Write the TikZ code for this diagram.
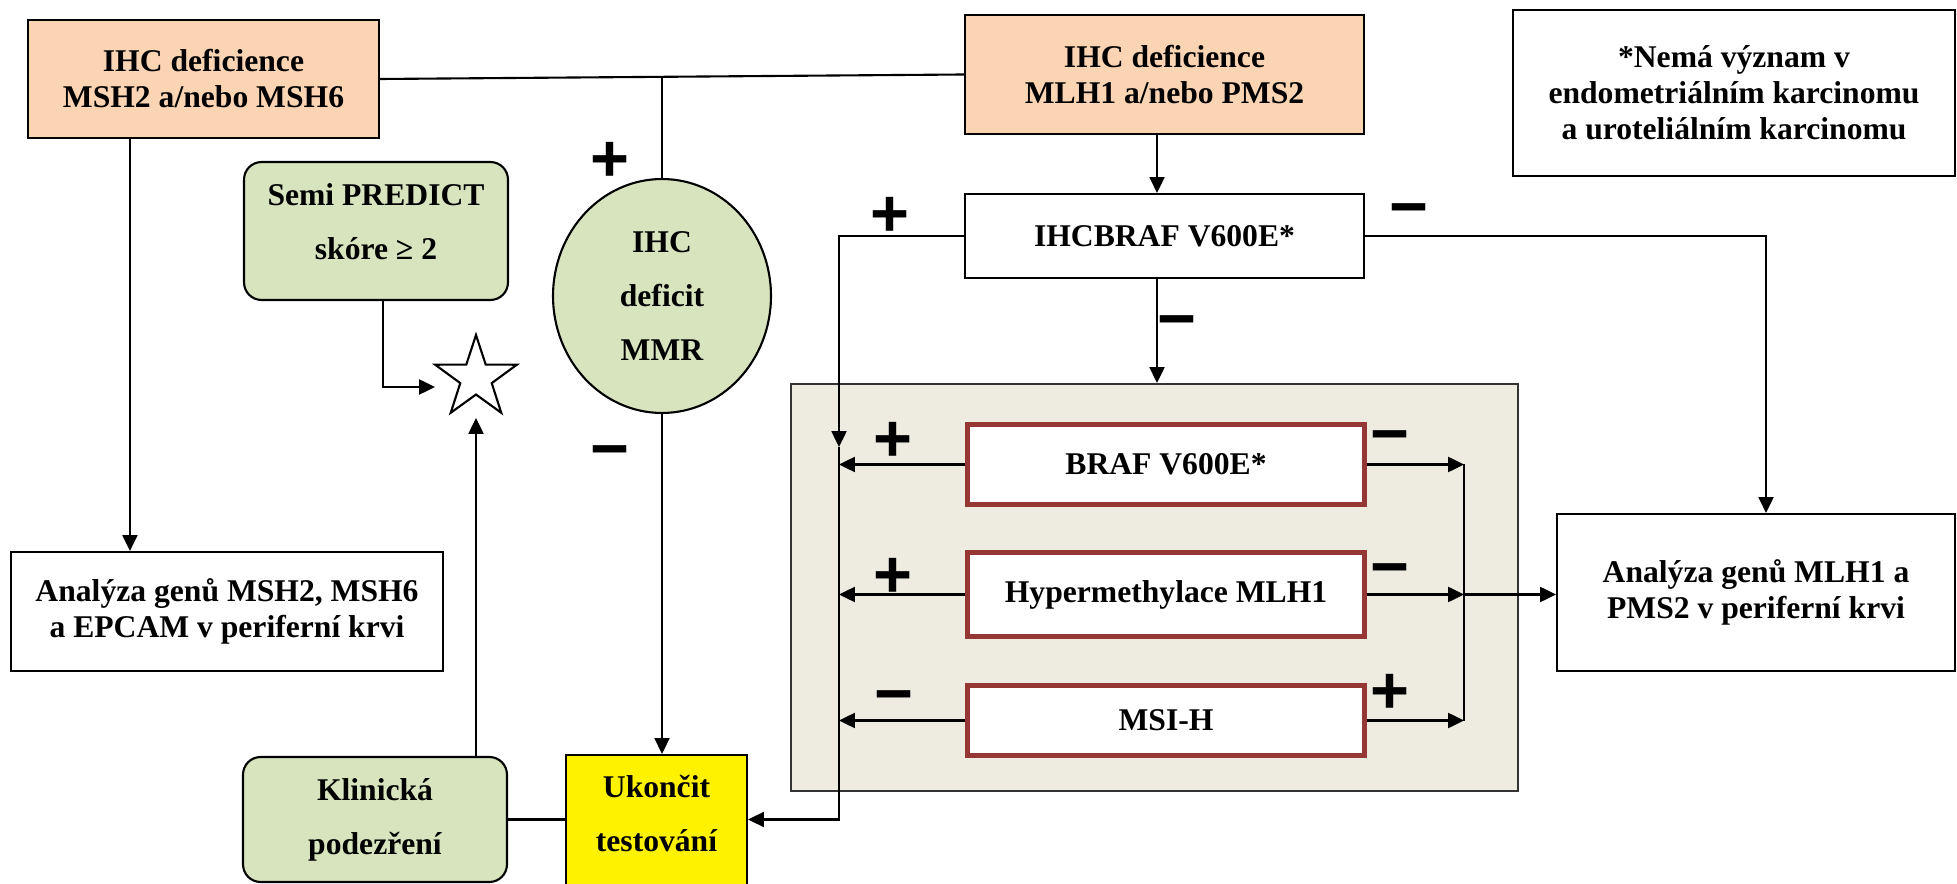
\documentclass[tikz,border=0pt]{standalone}
\usepackage{fontspec}
\setmainfont{Liberation Serif}
\newfontfamily\signfont{Liberation Sans}
\usetikzlibrary{arrows.meta,shapes.geometric,calc}

\definecolor{peach}{HTML}{FBD4B4}
\definecolor{sage}{HTML}{D7E4BD}
\definecolor{panelgray}{HTML}{EEECE1}
\definecolor{brick}{HTML}{953735}

\begin{document}
\begin{tikzpicture}[x=0.02cm,y=-0.02cm,line width=1.2pt,
            arr/.style={-{Triangle[length=9pt,width=8.5pt]}},
            txt/.style={font=\fontsize{18}{20.5}\selectfont\bfseries,align=center,inner sep=0pt},
            wide/.style={font=\fontsize{18}{30.6}\selectfont\bfseries},
            box/.style={txt,draw,rectangle},
            soft/.style={box,wide,fill=sage,rounded corners=10pt},
            testbox/.style={box,draw=brick,line width=2.8pt,fill=white,minimum width=7.94cm},
            sgn/.style={font=\signfont\bfseries\fontsize{38}{38}\selectfont,inner sep=0pt}]
            \useasboundingbox (0,0) rectangle (1957,884);

            \node[box,fill=panelgray,draw=black!80,minimum width=14.54cm,minimum height=8.14cm] (panel) at (1154.5,587.5) {};

            \node[box,fill=peach,minimum width=7.02cm,minimum height=2.36cm] (msh) at (203.5,79) {IHC deficience\\MSH2 a/nebo MSH6};
            \node[box,fill=peach,minimum width=7.98cm,minimum height=2.38cm] (mlh) at (1164.5,74.5) {IHC deficience\\MLH1 a/nebo PMS2};
            \node[box,minimum width=8.84cm,minimum height=3.32cm] (note) at (1734,93) {*Nemá význam v\\endometriálním karcinomu\\a uroteliálním karcinomu};
            \node[box,minimum width=7.98cm,minimum height=1.68cm] (ihcbraf) at (1164.5,236) {IHCBRAF V600E*};
            \node[txt,wide,draw,ellipse,fill=sage,minimum width=4.36cm,minimum height=4.68cm] (mmr) at (662,296) {IHC\\deficit\\MMR};
            \node[soft,text depth=0.38cm,minimum width=5.28cm,minimum height=2.76cm] (predict) at (376,231) {Semi PREDICT\\skóre ≥ 2};
            \node[draw,star,star points=5,star point ratio=2.6,minimum size=1.72cm,inner sep=0pt] (star) at (476,378) {};
            \node[box,minimum width=8.64cm,minimum height=2.38cm] (mshgen) at (227,611.5) {Analýza genů MSH2, MSH6\\a EPCAM v periferní krvi};
            \node[soft,minimum width=5.28cm,minimum height=2.5cm] (klin) at (375,819.5) {Klinická\\podezření};
            \node[box,wide,fill=yellow,text depth=0.36cm,minimum width=3.62cm,minimum height=2.68cm] (stop) at (656.5,822) {Ukončit\\testování};
            \node[box,minimum width=7.96cm,minimum height=3.14cm] (mlhgen) at (1756,592.5) {Analýza genů MLH1 a\\PMS2 v periferní krvi};

            \node[testbox,minimum height=1.60cm] (braf) at (1166,464.5) {BRAF V600E*};
            \node[testbox,minimum height=1.68cm] (hyper) at (1166,594.5) {Hypermethylace MLH1};
            \node[testbox,minimum height=1.40cm] (msi) at (1166,720.5) {MSI-H};

            \coordinate (jn) at (662,77);
            \coordinate (colArr) at (839,447);
            \coordinate (rx) at (1464,594.5);
            \coordinate (starIn) at ($(star.center)+(-41,9)$);
            \coordinate (starBot) at ($(star.center)+(0,40)$);

            \draw (msh.east) -- (mlh.west);
            \draw (jn) -- (mmr.north);
            \draw[arr] (mmr.south) -- (mmr.south |- stop.north);
            \draw[arr] ([xshift=2.06cm]msh.south west) -- ([xshift=2.06cm]msh.south west |- mshgen.north);
            \draw[arr] ([xshift=0.14cm]predict.south) |- (starIn);
            \draw[arr] (klin.north -| starBot) -- (starBot);
            \draw (klin.east) -- (klin.east -| stop.west);

            \draw[arr] ([xshift=-0.15cm]mlh.south) -- ([xshift=-0.15cm]ihcbraf.north);
            \draw[arr] ([xshift=-0.15cm]ihcbraf.south) -- ([xshift=-0.15cm]ihcbraf.south |- panel.north);
            \draw[arr] (ihcbraf.west) -| (colArr);
            \draw[arr] (colArr) |- (stop.east |- klin.east);
            \draw[arr] (ihcbraf.east) -| ([xshift=0.2cm]mlhgen.north);

            \foreach \t in {braf,hyper,msi} {
              \draw[arr] (\t.west) -- (\t.west -| colArr);
              \draw[arr] (\t.east) -- (\t.east -| rx);
            }
            \draw (braf.east -| rx) -- (msi.east -| rx);
            \draw[arr] (rx) -- (rx -| mlhgen.west);

            \node[sgn] (mmrPlus) at (610,162) {+};
            \node[sgn] (mmrMinus) at (610,459) {−};
            \node[sgn] (ihcPlus) at (890,217) {+};
            \node[sgn] (ihcMinusR) at (1409,217) {−};
            \node[sgn] (ihcMinusD) at (1177,329) {−};
            \node[sgn] (brafPlus) at (893,442) {+};
            \node[sgn] (hyperPlus) at (893,578) {+};
            \node[sgn] (msiMinus) at (894,704) {−};
            \node[sgn] (brafMinus) at (1390,444) {−};
            \node[sgn] (hyperMinus) at (1390,577) {−};
            \node[sgn] (msiPlus) at (1390,694) {+};
        \end{tikzpicture}
\end{document}
